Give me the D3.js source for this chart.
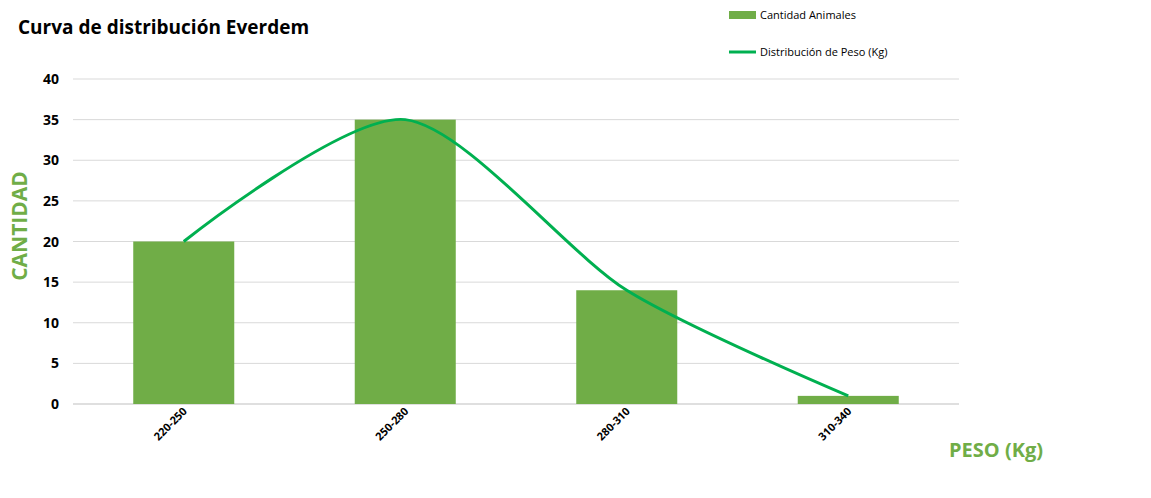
<!DOCTYPE html>
<html><head><meta charset="utf-8">
<script src="https://cdn.jsdelivr.net/npm/d3@7"></script>
<style>body{margin:0;background:#fff}text{font-family:"Open Sans",sans-serif}</style>
</head><body><svg id="c" width="1151" height="498"></svg>
<script>
var categories = ["220-250","250-280","280-310","310-340"];
var cantidad = [20,35,14,1];
var yTicks = [0,5,10,15,20,25,30,35,40];

var svg = d3.select("#c");
var x = d3.scaleBand().domain(categories).range([73,959]).paddingInner(0.544).paddingOuter(0.272);
var y = d3.scaleLinear().domain([0,40]).range([404,79]);

svg.append("g").selectAll("line").data(yTicks).join("line")
  .attr("x1",73).attr("x2",959).attr("y1",d=>y(d)).attr("y2",d=>y(d))
  .attr("stroke",d=>d==0?"#bfbfbf":"#d9d9d9");
svg.append("g").selectAll("text").data(yTicks).join("text")
  .attr("x",59).attr("y",d=>y(d)+5).attr("text-anchor","end")
  .attr("font-size",14).attr("font-weight","bold").attr("fill","#000").text(d=>d);

svg.append("g").selectAll("rect").data(cantidad).join("rect")
  .attr("x",(d,i)=>x(categories[i])).attr("width",x.bandwidth())
  .attr("y",d=>y(d)).attr("height",d=>y(0)-y(d)).attr("fill","#70ad47");

var line = d3.line().x((d,i)=>x(categories[i])+x.bandwidth()/2).y(d=>y(d)).curve(d3.curveCardinal.tension(0.2));
svg.append("path").attr("d",line(cantidad)).attr("fill","none").attr("stroke","#00b050").attr("stroke-width",3);

svg.append("g").selectAll("text").data(categories).join("text")
  .attr("transform",d=>"translate("+(x(d)+x.bandwidth()/2+4)+",412) rotate(-45)")
  .attr("text-anchor","end").attr("font-size",11).attr("font-weight","bold").text(d=>d);

svg.append("text").attr("x",18).attr("y",34).attr("font-size",19).attr("font-weight","bold").text("Curva de distribución Everdem");
svg.append("text").attr("transform","translate(27,226) rotate(-90)").attr("text-anchor","middle")
  .attr("font-size",21).attr("font-weight","bold").attr("fill","#70ad47").text("CANTIDAD");
svg.append("text").attr("x",949).attr("y",457).attr("font-size",20).attr("font-weight","bold").attr("fill","#70ad47").text("PESO (Kg)");

svg.append("rect").attr("x",729).attr("y",11).attr("width",27).attr("height",8).attr("fill","#70ad47");
svg.append("text").attr("x",760).attr("y",19).attr("font-size",11).text("Cantidad Animales");
svg.append("line").attr("x1",729).attr("x2",756).attr("y1",52).attr("y2",52).attr("stroke","#00b050").attr("stroke-width",3);
svg.append("text").attr("x",760).attr("y",56).attr("font-size",11).text("Distribución de Peso (Kg)");
</script></body></html>
